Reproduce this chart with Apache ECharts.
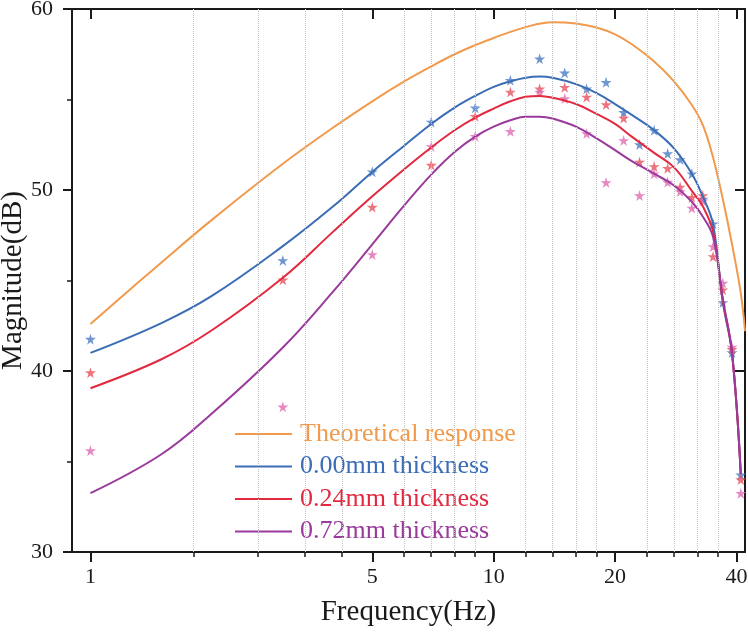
<!DOCTYPE html>
<html>
<head>
<meta charset="utf-8">
<script src="https://cdn.jsdelivr.net/npm/echarts@6/dist/echarts.min.js"></script>
<style>
html, body { margin: 0; padding: 0; background: #fff; }
#chart { width: 748px; height: 637px; }
</style>
</head>
<body>
<div id="chart"></div>
<script>
// frequency (Hz) of the fitted curves and of the measured stars
var curveFreq = [1, 1.5, 2, 3, 4, 5, 6, 7, 8, 9, 10, 11, 12, 13, 14, 16, 18, 20, 22, 25, 28, 31, 33, 35, 37, 39, 41];
var theoryFreq = [1, 1.5, 2, 3, 4, 5, 6, 7, 8, 9, 10, 12, 14, 16, 18, 20, 22, 25, 28, 31, 33, 35, 37, 39, 41, 42];
var starFreq = [1, 3, 5, 7, 9, 11, 13, 15, 17, 19, 21, 23, 25, 27, 29, 31, 33, 35, 37, 39, 41];

// curves (dB)
var theory = [42.6, 46.0, 48.35, 51.45, 53.45, 54.9, 56.0, 56.83, 57.5, 58.0, 58.4, 59.0, 59.27, 59.2, 58.98, 58.6, 58.05, 57.1, 56.0, 54.7, 53.6, 51.8, 49.5, 47.0, 44.3, 42.2];
var fit000 = [41.0, 42.65, 44.15, 46.9, 49.1, 51.0, 52.45, 53.65, 54.55, 55.2, 55.7, 56.0, 56.2, 56.27, 56.2, 55.85, 55.35, 54.75, 54.15, 53.3, 52.3, 50.9, 49.65, 48.1, 43.8, 41.0, 34.3];
var fit024 = [39.05, 40.65, 42.25, 45.15, 47.7, 49.65, 51.15, 52.35, 53.3, 54.0, 54.5, 54.9, 55.15, 55.2, 55.1, 54.75, 54.2, 53.65, 52.95, 52.05, 51.25, 49.95, 49.1, 47.7, 43.9, 41.0, 34.3];
var fit072 = [33.25, 35.4, 37.65, 41.3, 44.4, 47.0, 49.15, 50.85, 52.1, 52.95, 53.5, 53.85, 54.05, 54.05, 53.95, 53.5, 52.85, 52.2, 51.6, 50.9, 50.25, 49.35, 48.54, 47.4, 44.0, 41.0, 34.3];

// measured points (dB)
var meas000 = [41.76, 46.11, 51.01, 53.76, 54.54, 56.06, 57.25, 56.47, 55.59, 55.95, 54.29, 52.51, 53.3, 52.01, 51.68, 50.9, 49.5, 48.14, 43.79, 41.02, 34.26];
var meas024 = [39.91, 45.04, 49.06, 51.38, 54.07, 55.42, 55.59, 55.68, 55.14, 54.72, 53.98, 51.55, 51.3, 51.2, 50.17, 49.6, 49.7, 46.33, 44.49, 41.2, 34.0];
var meas072 = [35.6, 38.02, 46.44, 52.41, 52.97, 53.24, 55.42, 55.05, 53.12, 50.42, 52.74, 49.7, 50.9, 50.44, 49.92, 49.01, 49.4, 46.88, 44.86, 41.32, 33.25];

// axis ticks
var xMajor = [1, 5, 10, 20, 40];
var xMinor = [1.8, 2.6, 3.4, 4.2, 6, 7, 8, 9, 12, 14, 16, 18, 24, 28, 32, 36];

var lineNames = ['Theoretical response', '0.00mm thickness', '0.24mm thickness', '0.72mm thickness'];
var lineColors = ['#F19A4C', '#3A6DB5', '#E2293F', '#9A3A9C'];
var starColors = ['#4A7CC4', '#E8505E', '#E06CB4'];

var FONT = '"Liberation Serif", "Times New Roman", serif';
var INK = '#1a1a1a';
var STAR = 'path://M50,0 L61,35 L98,35 L68,57 L79,91 L50,70 L21,91 L32,57 L2,35 L39,35 Z';

function pairs(xs, ys) {
  return xs.map(function (x, i) { return [x, ys[i]]; });
}

var myChart = echarts.init(document.getElementById('chart'));

var gridBox = { left: 72, right: 3, top: 9, bottom: 85, containLabel: false, outerBoundsMode: 'none' };

var option = {
  animation: false,
  grid: [
    Object.assign({}, gridBox),
    Object.assign({}, gridBox)
  ],
  xAxis: [
    {
      gridIndex: 0, type: 'log', logBase: 10, min: 0.9, max: 42, position: 'bottom',
      axisLine: { lineStyle: { color: INK, width: 2 } },
      axisTick: { customValues: xMajor, length: 10, lineStyle: { color: INK, width: 2 } },
      axisLabel: { customValues: xMajor, fontFamily: FONT, fontSize: 22, color: INK, margin: 14 },
      splitLine: { show: false },
      name: 'Frequency(Hz)', nameLocation: 'middle', nameGap: 46, nameMoveOverlap: false,
      nameTextStyle: { fontFamily: FONT, fontSize: 29, color: INK }
    },
    {
      gridIndex: 0, type: 'log', logBase: 10, min: 0.9, max: 42, position: 'top',
      axisLine: { lineStyle: { color: INK, width: 2 } },
      axisTick: { inside: true, customValues: xMajor, length: 10, lineStyle: { color: INK, width: 2 } },
      axisLabel: { show: false },
      splitLine: { show: false }
    },
    {
      // minor ticks only
      gridIndex: 1, type: 'log', logBase: 10, min: 0.9, max: 42, position: 'bottom',
      axisLine: { show: false },
      axisTick: { customValues: xMinor, length: 5, lineStyle: { color: INK, width: 1.5 } },
      axisLabel: { show: false },
      splitLine: { show: false }
    }
  ],
  yAxis: [
    {
      gridIndex: 0, type: 'value', min: 30, max: 60, interval: 10, position: 'left',
      axisLine: { show: true, lineStyle: { color: INK, width: 2 } },
      axisTick: { show: true, length: 9, lineStyle: { color: INK, width: 2 } },
      minorTick: { show: true, splitNumber: 2, length: 5, lineStyle: { color: INK, width: 1.5 } },
      axisLabel: { fontFamily: FONT, fontSize: 22, color: INK, margin: 19 },
      splitLine: { show: false },
      name: 'Magnitude(dB)', nameLocation: 'middle', nameGap: 44, nameRotate: 90, nameMoveOverlap: false,
      nameTextStyle: { fontFamily: FONT, fontSize: 29, color: INK }
    },
    {
      gridIndex: 0, type: 'value', min: 30, max: 60, interval: 10, position: 'right',
      axisLine: { show: true, lineStyle: { color: INK, width: 2 } },
      axisTick: { show: true, inside: true, length: 10, lineStyle: { color: INK, width: 2 } },
      axisLabel: { show: false },
      splitLine: { show: false }
    },
    {
      gridIndex: 1, type: 'value', min: 30, max: 60, show: false
    }
  ],
  legend: {
    orient: 'vertical', left: 230, top: 416,
    itemWidth: 57, itemHeight: 2, itemGap: 6.5, icon: 'rect',
    textStyle: { fontFamily: FONT, fontSize: 26, padding: [0, 0, 0, 3] },
    data: lineNames.map(function (n, i) {
      return { name: n, textStyle: { color: lineColors[i] } };
    })
  },
  series: [
    { name: '0.00mm measured', type: 'scatter', symbol: STAR, symbolSize: 11,
      itemStyle: { color: starColors[0] }, data: pairs(starFreq, meas000),
      // dotted vertical grid at the minor ticks
      markLine: {
        silent: true, symbol: 'none', label: { show: false },
        lineStyle: { type: 'dotted', color: '#c2c2c2', width: 1 },
        data: xMinor.map(function (v) { return { xAxis: v }; })
      } },
    { name: '0.24mm measured', type: 'scatter', symbol: STAR, symbolSize: 11,
      itemStyle: { color: starColors[1] }, data: pairs(starFreq, meas024) },
    { name: '0.72mm measured', type: 'scatter', symbol: STAR, symbolSize: 11,
      itemStyle: { color: starColors[2] }, data: pairs(starFreq, meas072) },
    { name: lineNames[0], type: 'line', smooth: 0.4, symbol: 'none', color: lineColors[0],
      lineStyle: { width: 2 }, data: pairs(theoryFreq, theory) },
    { name: lineNames[1], type: 'line', smooth: 0.4, symbol: 'none', color: lineColors[1],
      lineStyle: { width: 2 }, data: pairs(curveFreq, fit000) },
    { name: lineNames[2], type: 'line', smooth: 0.4, symbol: 'none', color: lineColors[2],
      lineStyle: { width: 2 }, data: pairs(curveFreq, fit024) },
    { name: lineNames[3], type: 'line', smooth: 0.4, symbol: 'none', color: lineColors[3],
      lineStyle: { width: 2 }, data: pairs(curveFreq, fit072) }
  ]
};

myChart.setOption(option);
</script>
</body>
</html>
